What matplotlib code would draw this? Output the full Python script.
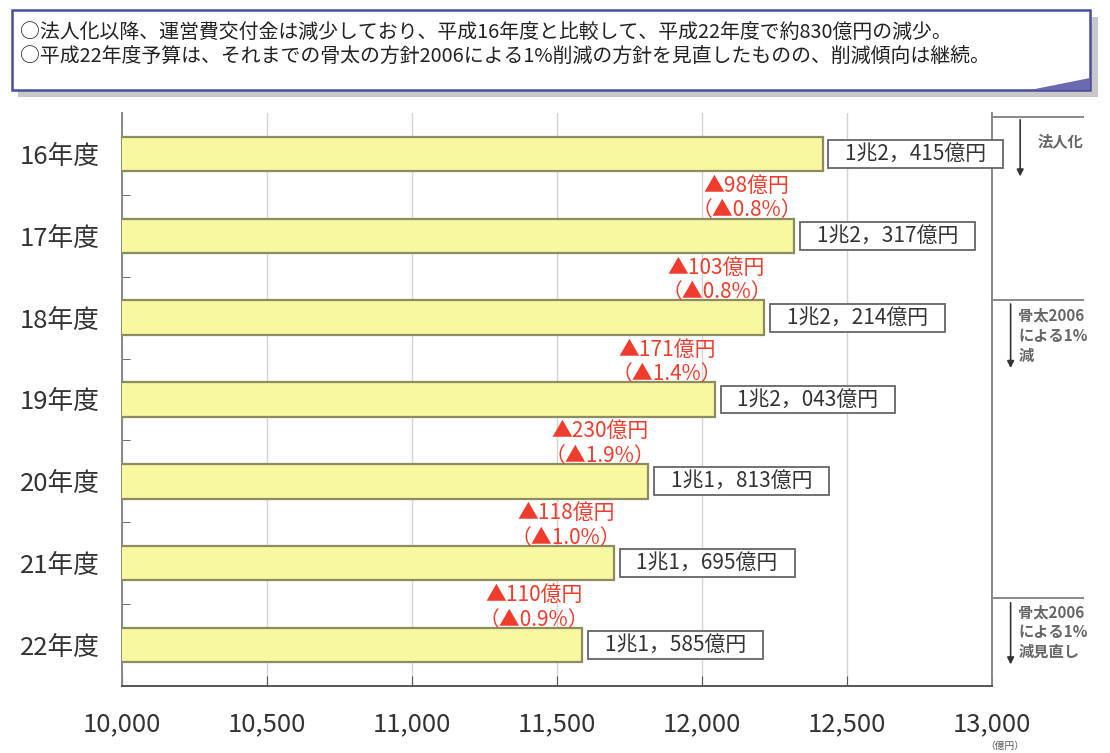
import numpy as np
import matplotlib.pyplot as plt
from matplotlib.patches import Rectangle, Polygon
from matplotlib.ticker import FuncFormatter, MultipleLocator

plt.rcParams['font.family'] = ['Noto Sans CJK JP', 'DejaVu Sans']

years = ['16年度', '17年度', '18年度', '19年度', '20年度', '21年度', '22年度']
values = [12415, 12317, 12214, 12043, 11813, 11695, 11585]
value_labels = ['1兆2，415億円', '1兆2，317億円', '1兆2，214億円', '1兆2，043億円',
                '1兆1，813億円', '1兆1，695億円', '1兆1，585億円']
decreases = [98, 103, 171, 230, 118, 110]
decrease_pct = ['0.8', '0.8', '1.4', '1.9', '1.0', '0.9']

header_lines = [
    '○法人化以降、運営費交付金は減少しており、平成16年度と比較して、平成22年度で約830億円の減少。',
    '○平成22年度予算は、それまでの骨太の方針2006による1%削減の方針を見直したものの、削減傾向は継続。',
]

fig = plt.figure(figsize=(11.1, 7.53), dpi=100)
ax = fig.add_axes([0.110, 0.089, 0.784, 0.761])

y = np.arange(len(years))
ax.barh(y, values, height=0.42, left=0, color='#f8f8a0', edgecolor='#8c8c60', linewidth=1.6, zorder=3)

ax.set_xlim(10000, 13000)
ax.set_ylim(len(years) - 0.5, -0.5)
ax.xaxis.set_major_locator(MultipleLocator(500))
ax.xaxis.set_major_formatter(FuncFormatter(lambda v, p: f'{int(v):,}'))
ax.grid(axis='x', color='#d4d4d4', linewidth=1, zorder=0)

ax.set_yticks(y)
ax.set_yticklabels(years, fontsize=18.5, color='#333333')
ax.set_yticks(y[:-1] + 0.5, minor=True)
ax.tick_params(axis='y', which='major', length=0, pad=16)
ax.tick_params(axis='y', which='minor', direction='in', length=6, color='#555555')
ax.tick_params(axis='x', direction='in', length=7, color='#555555', labelsize=18.5,
               labelcolor='#333333', pad=18)

for s in ['left', 'bottom', 'right', 'top']:
    ax.spines[s].set_color('#888888')
    ax.spines[s].set_linewidth(1.4)
ax.spines['bottom'].set_color('#555555')
ax.spines['top'].set_visible(False)

# value boxes
for yi, v, lab in zip(y, values, value_labels):
    ax.text(v + 30, yi, '   ' + lab + '   ', ha='left', va='center', fontsize=15, color='#333333',
            bbox=dict(boxstyle='square,pad=0.14', fc='white', ec='#666666', lw=1.3), zorder=4)

# decrease annotations
for i, (d, p) in enumerate(zip(decreases, decrease_pct)):
    xc = values[i + 1] - 165
    ax.text(xc, i + 0.39, f'▲{d}億円', ha='center', va='center', fontsize=15, color='#f03c2c', zorder=5)
    ax.text(xc, i + 0.69, f'（▲{p}%）', ha='center', va='center', fontsize=15, color='#f03c2c', zorder=5)

# right-side period annotations
trans = ax.get_yaxis_transform()
for yy in [-0.45, 1.785, 5.43]:
    ax.plot([1.0, 1.104], [yy, yy], transform=trans, color='#888888', lw=1.4, clip_on=False)
arrow_kw = dict(arrowstyle='-|>', color='#333333', lw=1.2, mutation_scale=10)
txt_kw = dict(fontsize=11, color='#666666', fontweight='bold', va='center', ha='left', linespacing=1.3)
ax.annotate('', xy=(1.032, 0.31), xytext=(1.032, -0.45), xycoords=trans, textcoords=trans,
            arrowprops=arrow_kw, annotation_clip=False)
ax.text(1.052, -0.15, '法人化', transform=trans, **txt_kw)
ax.annotate('', xy=(1.021, 2.65), xytext=(1.021, 1.80), xycoords=trans, textcoords=trans,
            arrowprops=arrow_kw, annotation_clip=False)
ax.text(1.030, 2.22, '骨太2006\nによる1%\n減', transform=trans, **txt_kw)
ax.annotate('', xy=(1.021, 6.27), xytext=(1.021, 5.45), xycoords=trans, textcoords=trans,
            arrowprops=arrow_kw, annotation_clip=False)
ax.text(1.030, 5.84, '骨太2006\nによる1%\n減見直し', transform=trans, **txt_kw)
fig.text(1005 / 1110, 1 - 746 / 753, '（億円）', fontsize=7, color='#555555', ha='center', va='center')

# header box
W, H = 1110, 753
fig.patches.append(Rectangle((18 / W, 1 - 97 / H), 1080 / W, 80 / H, transform=fig.transFigure,
                             fc='#c8c8c8', ec='none', zorder=0))
fig.patches.append(Rectangle((12 / W, 1 - 90 / H), 1078 / W, 80 / H, transform=fig.transFigure,
                             fc='white', ec='#4c4c9c', lw=1.8, zorder=1))
fig.patches.append(Polygon([(1030 / W, 1 - 90 / H), (1090 / W, 1 - 78 / H), (1090 / W, 1 - 90 / H)],
                           closed=True, transform=fig.transFigure, fc='#6a6ab0', ec='none', zorder=2))
fig.text(20 / W, 1 - 33 / H, header_lines[0], fontsize=14.3, color='#222222', va='center', zorder=3)
fig.text(20 / W, 1 - 57 / H, header_lines[1], fontsize=14.3, color='#222222', va='center', zorder=3)

fig.savefig('out.png', dpi=100)
